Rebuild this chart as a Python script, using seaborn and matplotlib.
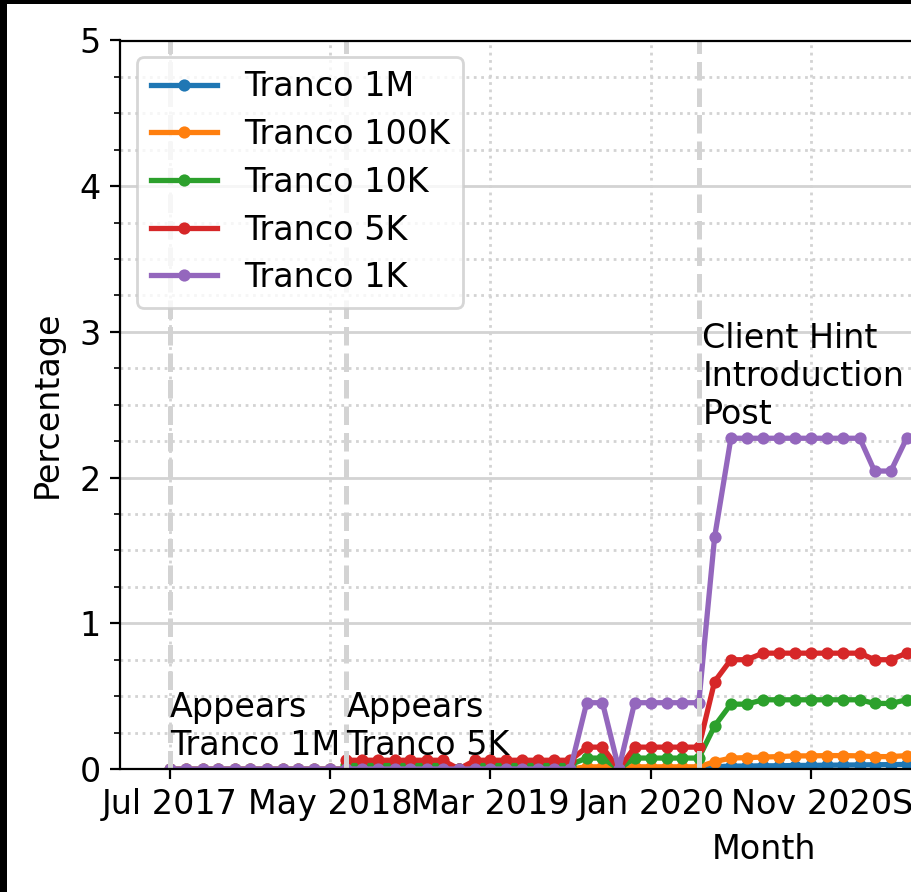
import numpy as np
import pandas as pd
import seaborn as sns
import matplotlib.pyplot as plt
import matplotlib.dates as mdates
from matplotlib.ticker import MultipleLocator, FixedLocator
from matplotlib.patches import Rectangle

plt.rcParams["font.size"] = 12
plt.rcParams["font.family"] = ["DejaVu Sans"]

# monthly crawl, Jul 2017 onwards (only the part visible in the crop)
months = pd.date_range("2017-07-01", periods=48, freq="MS")
tick_months = pd.date_range("2017-07-01", periods=8, freq="10MS")

z11 = [0.0] * 11
n11 = [np.nan] * 11  # 5K / 10K lists not crawled before Jun 2018
tranco_1m = z11 + [0.0] * 15 + [0.0, 0.0, 0.0, 0.0, 0.0, 0.0, 0.0, 0.005,
    0.015, 0.02, 0.02, 0.022, 0.022, 0.024, 0.025, 0.026, 0.027, 0.028,
    0.029, 0.03, 0.031, 0.031]
tranco_100k = z11 + [0.0] * 15 + [0.015, 0.015, 0.0, 0.015, 0.015, 0.015, 0.015, 0.015,
    0.05, 0.075, 0.078, 0.082, 0.085, 0.09, 0.09, 0.092, 0.092, 0.09,
    0.085, 0.085, 0.092, 0.092]
tranco_10k = n11 + [0.03] * 7 + [0.0] + [0.03] * 7 + [0.075, 0.075, 0.0, 0.075, 0.075, 0.075, 0.075, 0.075,
    0.295, 0.445, 0.445, 0.475, 0.475, 0.475, 0.475, 0.475, 0.475, 0.475,
    0.45, 0.45, 0.475, 0.475]
tranco_5k = n11 + [0.06] * 7 + [0.0] + [0.06] * 7 + [0.15, 0.15, 0.0, 0.15, 0.15, 0.15, 0.15, 0.15,
    0.60, 0.75, 0.75, 0.795, 0.795, 0.795, 0.795, 0.795, 0.795, 0.795,
    0.75, 0.75, 0.795, 0.795]
tranco_1k = z11 + [0.0] * 15 + [0.455, 0.455, 0.0, 0.455, 0.455, 0.455, 0.455, 0.455,
    1.59, 2.27, 2.27, 2.27, 2.27, 2.27, 2.27, 2.27, 2.27, 2.27,
    2.045, 2.045, 2.27, 2.27]

lists = ["Tranco 1M", "Tranco 100K", "Tranco 10K", "Tranco 5K", "Tranco 1K"]
series = [tranco_1m, tranco_100k, tranco_10k, tranco_5k, tranco_1k]

events = ["2017-07-01", "2018-06-01", "2020-04-01"]
event_text = ["Appears\nTranco 1M", "Appears\nTranco 5K", "Client Hint\nIntroduction\nPost"]
event_text_x = ["2017-07-01", "2018-06-01", "2020-04-08"]
event_y = [0.05, 0.05, 2.32]

df = pd.concat(
    [pd.DataFrame({"month": months, "pct": s, "list": name}) for name, s in zip(lists, series)],
    ignore_index=True,
)

fig = plt.figure(figsize=(4.56, 4.46), dpi=200)
fig.patch.set_facecolor("black")
fig.add_artist(Rectangle((7 / 912, 0), 1, (892 - 4) / 892, transform=fig.transFigure,
                         facecolor="white", edgecolor="none", zorder=-10))
ax = fig.add_axes([120.5 / 912, 123 / 892, 1288 / 912, 728.5 / 892])

sns.lineplot(data=df, x="month", y="pct", hue="list", hue_order=lists,
             palette=sns.color_palette("tab10", 5), marker="o", markersize=4.4,
             markeredgewidth=0, linewidth=1.9, ax=ax)

for d, tx, t, y in zip(events, event_text_x, event_text, event_y):
    ax.axvline(pd.Timestamp(d), color="lightgray", linestyle="--", linewidth=1.8)
    ax.text(pd.Timestamp(tx), y, t, ha="left", va="bottom")

x0 = mdates.date2num(pd.Timestamp("2017-07-01")) - 94
ax.set_xlim(x0, x0 + 1288 / 0.5262)
ax.set_ylim(0, 5)
ax.xaxis.set_major_locator(FixedLocator(mdates.date2num(tick_months)))
ax.xaxis.set_major_formatter(mdates.DateFormatter("%b %Y"))
ax.yaxis.set_major_locator(MultipleLocator(1))
ax.yaxis.set_minor_locator(MultipleLocator(0.25))

ax.set_axisbelow(True)
ax.yaxis.grid(True, which="major", color="lightgray", linestyle="-", linewidth=1)
ax.yaxis.grid(True, which="minor", color="lightgray", linestyle=":", linewidth=1)
ax.xaxis.grid(True, which="major", color="lightgray", linestyle=":", linewidth=1)

ax.set_xlabel("Month")
ax.set_ylabel("Percentage", labelpad=5.8)
ax.legend(loc="upper left", title=None, labelspacing=0.44)

fig.savefig("out.png", dpi=200, facecolor=fig.get_facecolor())
